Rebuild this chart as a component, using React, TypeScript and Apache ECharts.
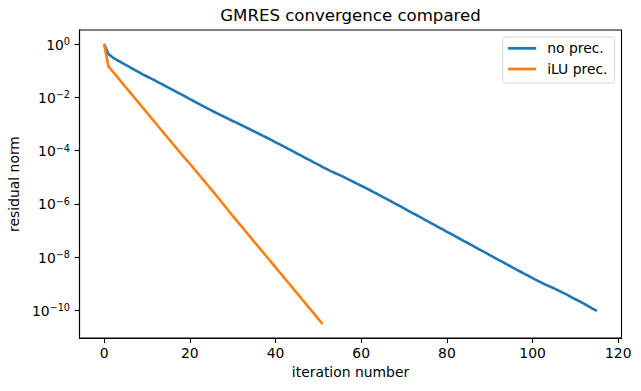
import React, { useEffect, useRef } from "react";
import * as echarts from "echarts";

const noPrec: number[] = [
  1.0, 4.17e-1, 3.16e-1, 2.51e-1, 2.04e-1, 1.66e-1, 1.35e-1, 1.1e-1, 8.91e-2, 7.24e-2,
  6.03e-2, 5.01e-2, 4.17e-2, 3.39e-2, 2.82e-2, 2.29e-2, 1.91e-2, 1.55e-2, 1.29e-2, 1.05e-2,
  8.51e-3, 7.08e-3, 5.75e-3, 4.79e-3, 3.89e-3, 3.24e-3, 2.69e-3, 2.24e-3, 1.86e-3, 1.55e-3,
  1.29e-3, 1.1e-3, 9.12e-4, 7.59e-4, 6.31e-4, 5.25e-4, 4.37e-4, 3.63e-4, 3.02e-4, 2.51e-4,
  2.04e-4, 1.7e-4, 1.41e-4, 1.15e-4, 9.55e-5, 7.76e-5, 6.46e-5, 5.25e-5, 4.37e-5, 3.55e-5,
  2.95e-5, 2.4e-5, 2.0e-5, 1.66e-5, 1.41e-5, 1.2e-5, 1.0e-5, 8.32e-6, 6.92e-6, 5.75e-6,
  4.79e-6, 3.98e-6, 3.31e-6, 2.69e-6, 2.24e-6, 1.82e-6, 1.51e-6, 1.23e-6, 1.0e-6, 8.32e-7,
  6.76e-7, 5.5e-7, 4.47e-7, 3.72e-7, 3.02e-7, 2.45e-7, 2.0e-7, 1.66e-7, 1.35e-7, 1.1e-7,
  8.91e-8, 7.41e-8, 6.03e-8, 4.9e-8, 3.98e-8, 3.31e-8, 2.69e-8, 2.19e-8, 1.78e-8, 1.48e-8,
  1.2e-8, 9.77e-9, 7.94e-9, 6.61e-9, 5.37e-9, 4.37e-9, 3.55e-9, 2.95e-9, 2.4e-9, 2.0e-9,
  1.62e-9, 1.35e-9, 1.12e-9, 9.33e-10, 7.94e-10, 6.76e-10, 5.62e-10, 4.68e-10, 3.89e-10, 3.16e-10,
  2.63e-10, 2.19e-10, 1.78e-10, 1.45e-10, 1.17e-10, 9.55e-11,
];

const iluPrec: number[] = [
  1.0, 1.45e-1, 9.27e-2, 5.93e-2, 3.8e-2, 2.43e-2, 1.56e-2, 1.0e-2, 6.4e-3, 4.1e-3,
  2.62e-3, 1.68e-3, 1.08e-3, 6.9e-4, 4.43e-4, 2.83e-4, 1.82e-4, 1.16e-4, 7.5e-5, 4.9e-5,
  3.2e-5, 2.05e-5, 1.32e-5, 8.5e-6, 5.45e-6, 3.5e-6, 2.22e-6, 1.42e-6, 8.9e-7, 5.6e-7,
  3.56e-7, 2.28e-7, 1.46e-7, 9.35e-8, 6.0e-8, 3.84e-8, 2.46e-8, 1.58e-8, 1.01e-8, 6.47e-9,
  4.14e-9, 2.65e-9, 1.7e-9, 1.09e-9, 6.98e-10, 4.47e-10, 2.86e-10, 1.84e-10, 1.17e-10, 7.53e-11,
  4.82e-11, 3.09e-11,
];

const seriesNames = ["no prec.", "iLU prec."];
const seriesColors = ["#1f77b4", "#ff7f0e"];
const xTicks = [0, 20, 40, 60, 80, 100, 120];
const yTicks = [1e-10, 1e-8, 1e-6, 1e-4, 1e-2, 1];

const FONT = "DejaVu Sans";

export default function App() {
  const ref = useRef<HTMLDivElement>(null);

  useEffect(() => {
    if (!ref.current) return;
    const chart = echarts.init(ref.current, undefined, { renderer: "svg" });
    const toPairs = (arr: number[]) => arr.map((v, i) => [i, v]);
    const xMaxData = Math.max(noPrec.length - 1, iluPrec.length - 1);
    const xPad = xMaxData * 0.05;
    const allY = [...noPrec, ...iluPrec];
    const lmin = Math.log10(Math.min(...allY));
    const lmax = Math.log10(Math.max(...allY));
    const lpad = (lmax - lmin) * 0.05;

    chart.setOption({
      animation: false,
      backgroundColor: "#ffffff",
      title: {
        text: "GMRES convergence compared",
        left: 350.5,
        top: 7,
        padding: 0,
        textAlign: "center",
        textStyle: { fontFamily: FONT, fontSize: 16.6, fontWeight: "normal", color: "#000" },
      },
      grid: {
        left: 79.5,
        right: 19.5,
        top: 30,
        bottom: 53,
        show: true,
        borderColor: "#000",
        borderWidth: 1.1,
        containLabel: false,
        outerBoundsMode: "none",
      },
      legend: {
        orient: "vertical",
        right: 26.5,
        top: 37,
        data: seriesNames,
        icon: "rect",
        itemWidth: 28,
        itemHeight: 2.8,
        itemGap: 6.7,
        padding: [4.3, 7, 7, 5.5],
        backgroundColor: "#ffffff",
        borderColor: "#d6d6d6",
        borderWidth: 1,
        borderRadius: 3,
        textStyle: {
          fontFamily: FONT,
          fontSize: 13.9,
          color: "#000",
          lineHeight: 14,
          padding: [0, 0, 0, 6],
        },
      },
      xAxis: {
        type: "value",
        min: -xPad,
        max: xMaxData + xPad,
        name: "iteration number",
        nameLocation: "middle",
        nameGap: 27,
        nameTextStyle: { fontFamily: FONT, fontSize: 13.9, color: "#000" },
        axisLine: { show: true, onZero: false, lineStyle: { color: "#000", width: 1.1 } },
        axisTick: {
          show: true,
          length: 4.9,
          customValues: xTicks,
          lineStyle: { color: "#000", width: 1.1 },
        },
        axisLabel: {
          customValues: xTicks,
          margin: 8,
          fontFamily: FONT,
          fontSize: 13.9,
          color: "#000",
        },
        splitLine: { show: false },
      },
      yAxis: {
        type: "log",
        logBase: 10,
        min: Math.pow(10, lmin - lpad),
        max: Math.pow(10, lmax + lpad),
        name: "residual norm",
        nameLocation: "middle",
        nameGap: 56,
        nameTextStyle: { fontFamily: FONT, fontSize: 13.9, color: "#000" },
        axisLine: { show: true, onZero: false, lineStyle: { color: "#000", width: 1.1 } },
        axisTick: {
          show: true,
          length: 4.9,
          customValues: yTicks,
          lineStyle: { color: "#000", width: 1.1 },
        },
        minorTick: { show: false },
        axisLabel: {
          customValues: yTicks,
          margin: 9.5,
          formatter: (v: number) => {
            const e = Math.round(Math.log10(v));
            const s = e < 0 ? "\u2212" + String(-e) : String(e);
            return "{b|10}{s|" + s + "}";
          },
          rich: {
            b: { fontFamily: FONT, fontSize: 13.9, color: "#000", lineHeight: 15, verticalAlign: "bottom" },
            s: {
              fontFamily: FONT,
              fontSize: 9.7,
              color: "#000",
              lineHeight: 10,
              verticalAlign: "top",
              padding: [0, 0, 4, 0],
            },
          },
        },
        splitLine: { show: false },
      },
      series: [
        {
          name: seriesNames[0],
          type: "line",
          data: toPairs(noPrec),
          showSymbol: false,
          symbol: "none",
          color: seriesColors[0],
          lineStyle: { color: seriesColors[0], width: 2.6 },
        },
        {
          name: seriesNames[1],
          type: "line",
          data: toPairs(iluPrec),
          showSymbol: false,
          symbol: "none",
          color: seriesColors[1],
          lineStyle: { color: seriesColors[1], width: 2.6 },
        },
      ],
    });
    return () => chart.dispose();
  }, []);

  return (
    <div
      ref={ref}
      style={{ position: "fixed", left: 0, top: 0, width: 641, height: 391, background: "#fff" }}
    />
  );
}
